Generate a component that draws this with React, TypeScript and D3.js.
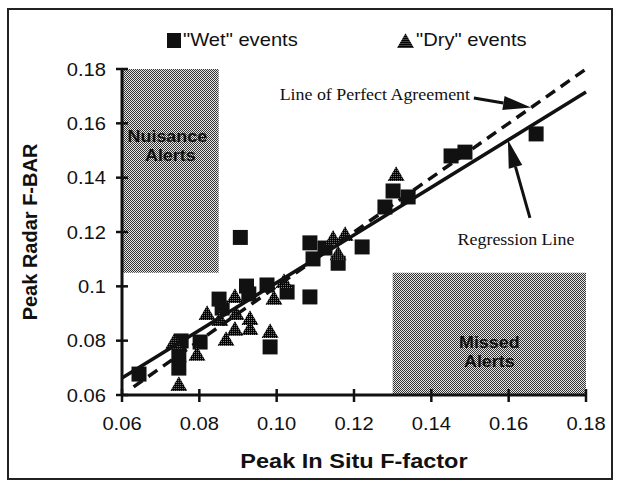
import React from 'react';
import * as d3 from 'd3';

// axis ticks
const xTicks = [0.06, 0.08, 0.1, 0.12, 0.14, 0.16, 0.18];
const xTickLabels = ['0.06', '0.08', '0.10', '0.12', '0.14', '0.16', '0.18'];
const yTicks = [0.06, 0.08, 0.1, 0.12, 0.14, 0.16, 0.18];
const yTickLabels = ['0.06', '0.08', '0.1', '0.12', '0.14', '0.16', '0.18'];

// "Wet" events (squares)
const wetX = [0.0906, 0.0922, 0.0928, 0.0975, 0.1027, 0.1086, 0.0851, 0.0859, 0.0983, 0.0753, 0.0802, 0.0747, 0.0747,
  0.0644, 0.1086, 0.1125, 0.1094, 0.1221, 0.1301, 0.134, 0.128, 0.1451, 0.1487, 0.1671, 0.1159];
const wetY = [0.118, 0.1001, 0.0972, 0.1005, 0.0979, 0.0961, 0.0953, 0.092, 0.0777, 0.0799, 0.0795, 0.0747, 0.0699,
  0.0677, 0.116, 0.1141, 0.1101, 0.1145, 0.1351, 0.1329, 0.1292, 0.148, 0.1494, 0.1561, 0.1085];

// "Dry" events (triangles)
const dryX = [0.0892, 0.082, 0.0853, 0.0895, 0.0931, 0.0931, 0.0892, 0.0869, 0.0983, 0.0993, 0.1019, 0.0734, 0.0794,
  0.0747, 0.1146, 0.1177, 0.1159, 0.1309];
const dryY = [0.0957, 0.0894, 0.0872, 0.0894, 0.0876, 0.0839, 0.0836, 0.0799, 0.0828, 0.095, 0.1012, 0.0788, 0.0744,
  0.0633, 0.1171, 0.1185, 0.1114, 0.1406];

// lines
const agreeX = [0.063, 0.18];
const agreeY = [0.063, 0.18];
const regX = [0.06, 0.18];
const regY = [0.0663, 0.1715];

// shaded zones [x0, x1, y0, y1]
const nuisanceZone = [0.06, 0.085, 0.105, 0.18];
const missedZone = [0.13, 0.18, 0.06, 0.105];

const W = 621;
const H = 483;
const SX = 1.12; // the scan is a bit wide

const x = d3.scaleLinear().domain([0.06, 0.18]).range([122, 586]);
const y = d3.scaleLinear().domain([0.06, 0.18]).range([395, 69]);

const sq = d3.symbol().type(d3.symbolSquare).size(225)()!;
const tri = d3.symbol().type(d3.symbolTriangle).size(125)()!;
const seg = d3.line<[number, number]>().x(d => x(d[0])).y(d => y(d[1]));

const sans = '"Liberation Sans", Arial, Helvetica, sans-serif';
const serif = '"Liberation Serif", "Times New Roman", serif';

function Txt(props: { x: number; y: number; anchor?: string; size: number; bold?: boolean; family?: string; children: React.ReactNode }) {
  return (
    <g transform={`translate(${props.x},${props.y}) scale(${SX},1)`}>
      <text textAnchor={props.anchor || 'start'} fontSize={props.size} fontWeight={props.bold ? 'bold' : 'normal'}
        fontFamily={props.family || sans} fill="#111">{props.children}</text>
    </g>
  );
}

function Arrow({ x1, y1, x2, y2 }: { x1: number; y1: number; x2: number; y2: number }) {
  // head drawn at (x2, y2)
  const ang = Math.atan2(y2 - y1, x2 - x1);
  const len = 28, half = 7;
  const bx = x2 - len * Math.cos(ang), by = y2 - len * Math.sin(ang);
  const px = -Math.sin(ang) * half, py = Math.cos(ang) * half;
  return (
    <g>
      <line x1={x1} y1={y1} x2={bx} y2={by} stroke="#111" strokeWidth={3} />
      <path d={`M${x2},${y2}L${bx + px},${by + py}L${bx - px},${by - py}Z`} fill="#111" />
    </g>
  );
}

export default function App() {
  const zone = (z: number[], key: string) => (
    <rect key={key} x={x(z[0])} y={y(z[3])} width={x(z[1]) - x(z[0])} height={y(z[2]) - y(z[3])} fill="url(#shade)" />
  );
  const agree = agreeX.map((v, i) => [v, agreeY[i]] as [number, number]);
  const reg = regX.map((v, i) => [v, regY[i]] as [number, number]);

  return (
    <svg width={W} height={H} style={{ position: 'absolute', left: 0, top: 0, background: '#fff' }}>
      <defs>
        <pattern id="shade" width="2" height="2" patternUnits="userSpaceOnUse">
          <rect width="2" height="2" fill="#e6e6e6" />
          <rect x="0" y="0" width="1" height="1" fill="#333" />
          <rect x="1" y="1" width="1" height="1" fill="#333" />
        </pattern>
        <pattern id="dots" width="2" height="2" patternUnits="userSpaceOnUse">
          <rect width="2" height="2" fill="#000" />
          <rect x="1" y="0" width="1" height="1" fill="#808080" />
        </pattern>
      </defs>

      {/* frame */}
      <rect x={8} y={9} width={604} height={470} fill="none" stroke="#222" strokeWidth={2} />

      {/* legend */}
      <rect x={167} y={33} width={14} height={15} fill="#111" />
      <Txt x={183} y={46} size={18}>"Wet" events</Txt>
      <path d={tri} transform="translate(405.5,43)" fill="url(#dots)" />
      <Txt x={416} y={46} size={18}>"Dry" events</Txt>

      {/* shaded zones */}
      {zone(nuisanceZone, 'n')}
      {zone(missedZone, 'm')}
      <Txt x={(x(nuisanceZone[0]) + x(nuisanceZone[1])) / 2 - 3} y={142} anchor="middle" size={16} bold>Nuisance</Txt>
      <Txt x={(x(nuisanceZone[0]) + x(nuisanceZone[1])) / 2} y={161} anchor="middle" size={16} bold>Alerts</Txt>
      <Txt x={(x(missedZone[0]) + x(missedZone[1])) / 2} y={348} anchor="middle" size={16} bold>Missed</Txt>
      <Txt x={(x(missedZone[0]) + x(missedZone[1])) / 2} y={367} anchor="middle" size={16} bold>Alerts</Txt>

      {/* points */}
      {wetX.map((v, i) => (
        <path key={'w' + i} d={sq} transform={`translate(${x(v)},${y(wetY[i])})`} fill="#111" />
      ))}
      {dryX.map((v, i) => (
        <path key={'d' + i} d={tri} transform={`translate(${x(v)},${y(dryY[i])})`} fill="url(#dots)" />
      ))}

      {/* lines */}
      <path d={seg(agree)!} stroke="#111" strokeWidth={3.5} strokeDasharray="11,7" fill="none" />
      <path d={seg(reg)!} stroke="#111" strokeWidth={3.5} fill="none" />

      {/* annotations */}
      <Txt x={x(0.15)} y={y(0.1686)} anchor="end" size={16} family={serif}>Line of Perfect Agreement</Txt>
      <Arrow x1={x(0.151)} y1={y(0.1693)} x2={x(0.1658)} y2={y(0.1658)} />
      <Txt x={x(0.1619)} y={y(0.1152)} anchor="middle" size={16} family={serif}>Regression Line</Txt>
      <Arrow x1={x(0.1655)} y1={y(0.1252)} x2={x(0.1598)} y2={y(0.1539)} />

      {/* axes */}
      <line x1={x(0.06)} x2={x(0.18)} y1={y(0.06)} y2={y(0.06)} stroke="#111" strokeWidth={3} />
      <line x1={x(0.06)} x2={x(0.06)} y1={y(0.06)} y2={y(0.18)} stroke="#111" strokeWidth={3} />
      {xTicks.map((t, i) => (
        <g key={'xt' + i}>
          <line x1={x(t)} x2={x(t)} y1={y(0.06) - 6} y2={y(0.06) + 7} stroke="#111" strokeWidth={2.5} />
          <Txt x={x(t)} y={430} anchor="middle" size={18}>{xTickLabels[i]}</Txt>
        </g>
      ))}
      {yTicks.map((t, i) => (
        <g key={'yt' + i}>
          <line x1={x(0.06) - 6} x2={x(0.06) + 6} y1={y(t)} y2={y(t)} stroke="#111" strokeWidth={2.5} />
          <Txt x={106} y={y(t) + 6.5} anchor="end" size={18}>{yTickLabels[i]}</Txt>
        </g>
      ))}

      {/* axis titles */}
      <Txt x={(x(0.06) + x(0.18)) / 2} y={468} anchor="middle" size={21} bold>Peak In Situ F-factor</Txt>
      <text transform={`translate(37,${(y(0.06) + y(0.18)) / 2}) rotate(-90)`} textAnchor="middle" fontSize={20}
        fontWeight="bold" fontFamily={sans} fill="#111">Peak Radar F-BAR</text>
    </svg>
  );
}
